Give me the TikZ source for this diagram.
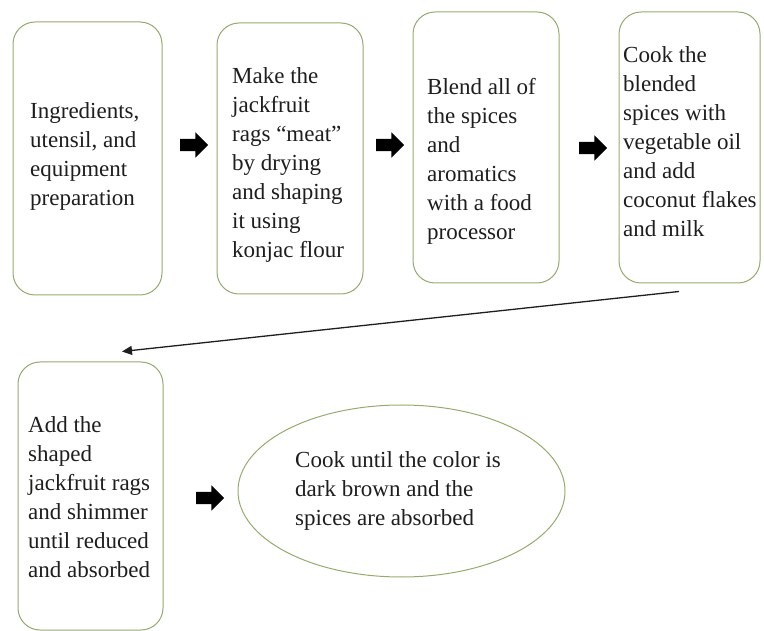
\documentclass[tikz,border=0pt]{standalone}
\usepackage{fontspec}
\setmainfont{Liberation Serif}
\usetikzlibrary{shapes.geometric,shapes.arrows,arrows.meta}
\definecolor{boxgreen}{RGB}{150,170,110}
\definecolor{ink}{RGB}{30,30,30}
\tikzset{
  stepbox/.style={draw=boxgreen, line width=1pt, rounded corners=22pt, inner sep=0pt, fill=white},
  ovalbox/.style={draw=boxgreen, line width=1pt, ellipse, inner sep=0pt},
  txt/.style={anchor=west, align=left, inner sep=0pt, text=ink, font=\fontsize{23}{29}\selectfont},
  blockarrow/.style={single arrow, fill=black, draw=none, inner sep=6pt, minimum height=28pt,
    single arrow head extend=6.5pt, single arrow tip angle=90},
  conn/.style={draw=ink, line width=1.3pt, -{Triangle[length=10pt,width=9pt]}}
}
\begin{document}
\begin{tikzpicture}[x=1pt,y=-1pt]
\useasboundingbox (0,0) rectangle (764,631);
% boxes
\node[stepbox, minimum width=149pt, minimum height=273pt] (b1) at (87.5,158.5) {};
\node[stepbox, minimum width=146pt, minimum height=271pt] (b2) at (290,158.5) {};
\node[stepbox, minimum width=146pt, minimum height=271pt] (b3) at (486,147.5) {};
\node[stepbox, minimum width=141pt, minimum height=271pt] (b4) at (689.5,147.5) {};
\node[stepbox, minimum width=145pt, minimum height=268pt] (b5) at (90.5,496) {};
\node[ovalbox, minimum width=327pt, minimum height=172pt] (e) at (401.5,491) {};
% texts
\node[txt] (t1) at (30,156) {Ingredients,\\utensil, and\\equipment\\preparation};
\node[txt] (t2) at (232,165) {Make the\\jackfruit\\rags ``meat''\\by drying\\and shaping\\it using\\konjac flour};
\node[txt] (t3) at (427,161) {Blend all of\\the spices\\and\\aromatics\\with a food\\processor};
\node[txt] (t4) at (623,142) {Cook the\\blended\\spices with\\vegetable oil\\and add\\coconut flakes\\and milk};
\node[txt] (t5) at (28,497) {Add the\\shaped\\jackfruit rags\\and shimmer\\until reduced\\and absorbed};
\node[txt] (t6) at (295,491) {Cook until the color is\\dark brown and the\\spices are absorbed};
% block arrows
\node[blockarrow] (a1) at (191,145) {};
\node[blockarrow] (a2) at (387,145) {};
\node[blockarrow] (a3) at (590,148) {};
\node[blockarrow] (a4) at (207,498) {};
% connector
\draw[conn] ([shift={(-10.5,8)}]b4.south) -- ([shift={(31.5,-10)}]b5.north);
\end{tikzpicture}
\end{document}
